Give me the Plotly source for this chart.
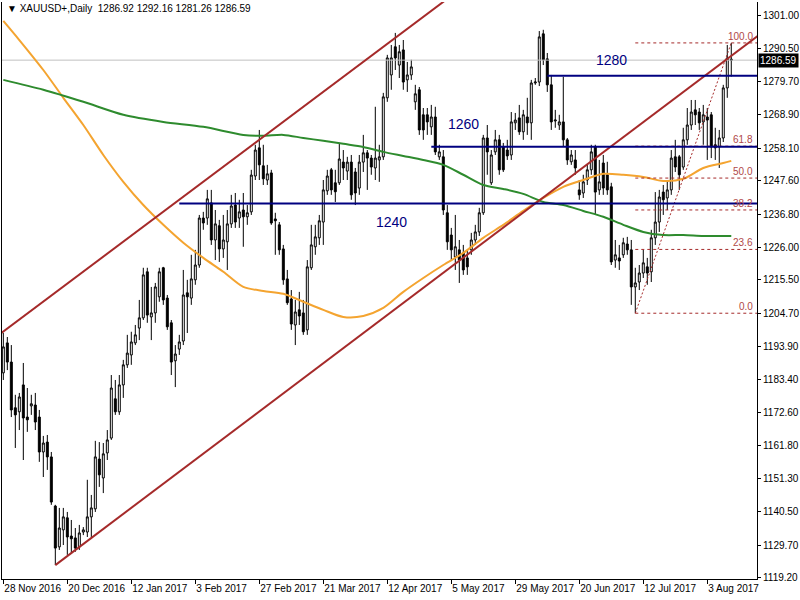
import plotly.graph_objects as go

# ---------------- data ----------------
opens = [1185.4,1195.1,1188.9,1174.1,1172.8,1181.5,1171.1,1174.7,1175.0,1171.1,
         1159.8,1163.0,1158.2,1142.3,1129.1,1134.6,1138.5,1132.6,1132.0,1129.1,
         1133.9,1133.9,1138.8,1141.4,1157.5,1151.4,1159.5,1164.3,1177.0,1172.8,
         1181.5,1188.0,1191.2,1195.1,1199.9,1203.2,1218.1,1203.5,1204.8,1210.0,
         1219.4,1209.6,1201.6,1189.3,1193.1,1195.7,1211.3,1209.6,1215.5,1220.3,
         1235.5,1235.5,1240.4,1228.4,1233.0,1225.5,1227.8,1233.6,1239.7,1235.5,
         1238.1,1235.9,1237.5,1249.1,1258.2,1252.4,1247.8,1250.1,1235.2,1233.3,
         1225.5,1215.8,1209.3,1200.9,1205.8,1204.8,1199.3,1219.4,1226.2,1229.1,
         1234.2,1244.3,1251.1,1246.9,1246.9,1253.6,1250.7,1253.6,1250.4,1245.2,
         1253.6,1256.6,1254.9,1251.7,1254.3,1255.3,1274.4,1281.8,1290.9,1285.0,
         1289.9,1280.2,1281.8,1273.1,1277.0,1268.9,1268.9,1265.0,1268.2,1255.3,
         1255.3,1237.2,1230.0,1222.9,1225.2,1224.2,1222.6,1225.2,1228.4,1231.0,
         1237.2,1261.4,1246.9,1256.9,1260.8,1258.5,1257.5,1255.9,1266.3,1267.9,
         1263.4,1268.2,1266.3,1279.2,1279.5,1295.1,1287.0,1278.6,1266.9,1265.6,
         1266.6,1260.8,1253.7,1254.3,1244.6,1243.6,1247.8,1251.1,1258.5,1244.6,
         1253.3,1249.5,1245.6,1221.9,1222.6,1223.6,1227.1,1225.2,1213.2,1214.8,
         1217.7,1219.7,1218.1,1229.1,1234.2,1243.9,1242.0,1244.6,1255.3,1255.3,
         1252.0,1260.8,1265.6,1270.5,1269.8,1266.6,1268.2,1268.9,1259.2,1258.5,
         1261.4,1277.6,1286.92]
highs = [1198.3,1197.0,1194.4,1178.3,1178.9,1188.6,1180.5,1178.3,1178.9,1173.4,
         1165.0,1165.3,1159.8,1142.7,1141.7,1141.7,1140.4,1137.8,1135.2,1136.2,
         1135.5,1150.8,1145.9,1163.4,1163.0,1162.7,1166.9,1184.7,1183.1,1184.7,
         1189.6,1197.7,1198.7,1200.9,1209.0,1219.4,1219.4,1213.2,1214.5,1219.4,
         1219.7,1210.6,1202.5,1194.4,1197.7,1218.7,1215.5,1223.6,1225.2,1236.5,
         1237.5,1244.6,1244.6,1238.1,1234.9,1236.5,1238.1,1243.0,1243.6,1241.4,
         1243.6,1239.7,1251.1,1259.2,1264.0,1259.2,1252.7,1251.1,1237.2,1234.2,
         1226.8,1218.7,1212.2,1209.0,1211.6,1209.0,1221.9,1233.3,1233.3,1236.5,
         1247.8,1251.1,1251.7,1251.1,1259.8,1257.5,1255.3,1255.9,1251.7,1255.9,
         1262.4,1257.5,1255.9,1271.5,1259.2,1276.0,1288.3,1291.5,1295.4,1291.5,
         1293.1,1286.0,1286.7,1278.6,1277.9,1271.1,1271.1,1272.1,1271.5,1259.2,
         1257.5,1239.7,1232.3,1236.5,1228.4,1226.8,1225.2,1230.7,1233.3,1238.8,
         1262.4,1265.6,1257.5,1264.0,1262.4,1259.8,1260.8,1269.8,1269.5,1272.1,
         1270.5,1274.4,1280.2,1280.8,1296.0,1296.4,1288.9,1281.8,1270.5,1268.9,
         1281.2,1261.4,1257.5,1257.5,1247.8,1249.5,1252.7,1259.2,1259.2,1254.3,
         1255.9,1253.7,1246.9,1228.4,1226.8,1229.1,1229.4,1228.4,1219.4,1220.3,
         1225.2,1222.6,1231.7,1243.9,1244.6,1246.2,1247.8,1257.5,1260.8,1255.9,
         1264.7,1271.1,1273.7,1273.7,1271.1,1272.1,1271.1,1269.8,1264.7,1264.0,
         1278.6,1291.5,1292.16]
lows = [1183.1,1186.3,1171.1,1161.1,1166.9,1157.2,1166.3,1171.8,1166.9,1156.6,
        1151.7,1154.0,1142.7,1123.2,1128.1,1129.7,1126.5,1127.1,1127.5,1128.1,
        1132.9,1132.3,1132.3,1140.4,1148.5,1146.5,1157.2,1163.7,1171.8,1171.8,
        1177.3,1187.0,1188.0,1194.4,1196.0,1202.5,1201.6,1196.0,1201.6,1208.4,
        1207.4,1199.3,1184.7,1180.8,1191.2,1194.4,1198.3,1207.4,1213.9,1219.4,
        1231.7,1233.3,1226.8,1221.9,1221.3,1222.6,1218.7,1232.3,1232.3,1232.3,
        1226.2,1233.3,1236.5,1247.8,1247.8,1246.2,1246.2,1233.3,1223.6,1223.6,
        1213.9,1207.4,1199.3,1194.4,1200.9,1197.7,1197.7,1218.7,1223.6,1226.8,
        1226.8,1243.0,1243.0,1240.7,1246.2,1247.8,1247.8,1241.4,1239.7,1243.0,
        1250.4,1244.6,1249.5,1247.8,1247.2,1254.3,1273.1,1277.0,1283.4,1280.8,
        1277.0,1276.3,1280.2,1270.5,1262.4,1260.8,1262.4,1262.4,1255.9,1254.3,
        1236.5,1225.2,1221.9,1218.7,1214.5,1217.1,1217.1,1223.6,1226.8,1229.7,
        1236.5,1249.5,1246.2,1255.9,1249.5,1250.4,1254.3,1254.3,1264.0,1262.4,
        1260.8,1262.4,1260.8,1278.6,1278.2,1285.0,1276.3,1264.0,1264.7,1264.0,
        1258.5,1252.7,1252.7,1249.5,1241.4,1242.0,1246.2,1249.5,1236.5,1243.0,
        1243.0,1243.0,1220.3,1219.4,1218.7,1222.6,1223.6,1207.4,1204.7,1212.2,
        1216.1,1213.9,1214.8,1226.8,1231.0,1236.5,1238.1,1243.0,1250.4,1244.6,
        1251.1,1259.2,1264.0,1265.6,1264.0,1259.2,1254.3,1254.9,1254.3,1251.7,
        1260.1,1274.4,1281.26]
closes = [1193.8,1188.9,1173.4,1171.8,1177.6,1170.8,1170.2,1175.4,1169.5,1159.8,
          1162.7,1158.2,1143.6,1128.7,1135.2,1138.8,1132.3,1131.7,1128.7,1133.6,
          1134.6,1138.8,1141.7,1158.2,1152.4,1159.2,1163.7,1180.5,1172.8,1181.5,
          1188.0,1191.8,1195.4,1197.7,1203.2,1217.1,1204.1,1204.8,1213.2,1218.1,
          1209.0,1200.3,1188.9,1191.5,1195.4,1210.6,1210.0,1215.8,1220.3,1235.5,
          1233.9,1241.7,1228.4,1233.6,1225.5,1228.4,1233.6,1239.4,1234.2,1237.5,
          1235.9,1237.2,1249.4,1257.5,1252.7,1248.2,1249.8,1233.9,1234.6,1225.2,
          1215.5,1208.1,1201.2,1205.1,1203.8,1198.7,1219.7,1226.8,1229.4,1234.6,
          1244.6,1249.1,1244.6,1244.0,1254.6,1251.7,1253.6,1243.0,1243.6,1253.6,
          1256.6,1254.9,1252.0,1254.9,1255.3,1274.7,1287.3,1287.3,1287.3,1289.3,
          1279.5,1281.8,1284.4,1275.7,1264.0,1264.0,1266.6,1268.2,1256.9,1256.9,
          1238.1,1227.8,1225.2,1226.2,1221.9,1218.7,1219.7,1228.4,1231.0,1237.2,
          1261.4,1256.9,1255.9,1260.8,1251.1,1251.1,1255.6,1266.6,1267.2,1263.4,
          1268.9,1266.3,1279.2,1279.5,1294.1,1286.7,1278.6,1266.6,1267.2,1266.6,
          1260.8,1254.3,1255.9,1251.7,1243.0,1247.2,1251.1,1256.9,1243.9,1247.2,
          1245.2,1244.6,1221.3,1223.6,1221.6,1227.5,1225.2,1213.2,1214.5,1217.7,
          1221.0,1217.7,1229.1,1234.2,1242.3,1241.4,1244.6,1254.9,1252.0,1249.5,
          1260.8,1265.6,1269.8,1268.9,1266.3,1268.9,1267.2,1258.5,1258.2,1261.4,
          1277.6,1287.3,1286.59]

# date tick labels (one every 16 bars)
tick_bars = [0, 16, 32, 48, 64, 80, 96, 112, 128, 144, 160, 176]
tick_dates = ["28 Nov 2016", "20 Dec 2016", "12 Jan 2017", "3 Feb 2017", "27 Feb 2017",
              "21 Mar 2017", "12 Apr 2017", "5 May 2017", "29 May 2017", "20 Jun 2017",
              "12 Jul 2017", "3 Aug 2017"]
price_ticks = [1301.00, 1290.50, 1279.70, 1268.90, 1258.10, 1247.60, 1236.80, 1226.00,
               1215.50, 1204.70, 1193.90, 1183.40, 1172.60, 1161.80, 1151.30, 1140.50,
               1129.70, 1119.20]

# moving averages (read at sampled bars)
orange_bars = [0, 4, 10, 15, 20, 25, 30, 35, 40, 45, 50, 55, 60, 65, 70, 75, 80, 85, 90,
               95, 100, 105, 110, 115, 120, 125, 130, 135, 140, 145, 150, 155, 160, 165,
               170, 175, 180, 182]
orange_vals = [1299.3, 1293.1, 1283.4, 1274.4, 1265.6, 1255.9, 1247.2, 1239.7, 1233.3,
               1227.5, 1222.6, 1218.1, 1213.2, 1211.9, 1211.0, 1208.4, 1205.8, 1203.5,
               1203.8, 1206.4, 1211.6, 1216.1, 1220.3, 1224.2, 1229.1, 1233.3, 1237.8,
               1242.0, 1245.6, 1247.8, 1249.8, 1249.5, 1248.8, 1247.5, 1248.2, 1251.7,
               1253.3, 1254.0]
green_bars = [0, 10, 20, 30, 40, 50, 60, 65, 70, 75, 80, 85, 90, 95, 100, 105, 110, 115,
              120, 125, 130, 135, 140, 145, 150, 155, 160, 165, 170, 175, 180, 182]
green_vals = [1280.2, 1277.0, 1273.1, 1268.9, 1266.6, 1265.0, 1262.4, 1262.1, 1262.4,
              1261.4, 1260.5, 1259.5, 1258.5, 1256.9, 1255.6, 1254.3, 1252.7, 1249.5,
              1246.2, 1244.9, 1243.3, 1240.7, 1239.7, 1237.8, 1235.9, 1233.3, 1231.0,
              1230.0, 1230.0, 1229.7, 1229.7, 1229.7]

# channel trend lines (two anchor points each: bar, price)
upper_channel_bars = [-1, 115]
upper_channel_prices = [1197.8, 1310.3]
lower_channel_bars = [13, 190]
lower_channel_prices = [1123.2, 1295.8]

# horizontal support / resistance lines
level_prices = [1281.5, 1258.6, 1240.2]
level_start_bars = [136, 107, 44]
level_labels = ["1280", "1260", "1240"]
level_label_bars = [152, 115, 97]
level_label_prices = [1286.7, 1266.0, 1234.3]

# Fibonacci retracement
fib_low = 1204.7
fib_high = 1292.16
fib_low_bar = 158
fib_high_bar = 182
fib_levels = [0.0, 23.6, 38.2, 50.0, 61.8, 100.0]

last_price = 1286.59
title_text = "▼ XAUUSD+,Daily  1286.92 1292.16 1281.26 1286.59"

# ---------------- figure ----------------
bars = list(range(len(closes)))
x_left, x_right = -0.33, 188.43
y_low, y_high = 1118.7, 1305.4

FONT = "Liberation Sans, Arial, sans-serif"
BROWN = "#A52A2A"
NAVY = "#000080"

fig = go.Figure()

# current price line (behind everything)
fig.add_trace(go.Scatter(x=[x_left, x_right], y=[last_price, last_price], mode="lines",
                         line=dict(color="#C0C0C0", width=1), hoverinfo="skip"))

fig.add_trace(go.Candlestick(
    x=bars, open=opens, high=highs, low=lows, close=closes,
    increasing=dict(line=dict(color="black", width=1), fillcolor="white"),
    decreasing=dict(line=dict(color="black", width=1), fillcolor="black"),
    whiskerwidth=0, hoverinfo="skip"))

fig.add_trace(go.Scatter(x=orange_bars, y=orange_vals, mode="lines",
                         line=dict(color="#F4A430", width=2, shape="spline", smoothing=0.8),
                         hoverinfo="skip"))
fig.add_trace(go.Scatter(x=green_bars, y=green_vals, mode="lines",
                         line=dict(color="#2E8B2E", width=2, shape="spline", smoothing=0.8),
                         hoverinfo="skip"))

# Fibonacci levels
fib_range = fib_high - fib_low
for lv in fib_levels:
    yv = fib_low + fib_range * lv / 100.0
    fig.add_trace(go.Scatter(x=[fib_low_bar, x_right], y=[yv, yv], mode="lines",
                             line=dict(color=BROWN, width=1, dash="3px,3px"),
                             hoverinfo="skip"))
    fig.add_annotation(x=1, xref="paper", y=yv, yref="y", text=f"{lv:.1f}",
                       showarrow=False, xanchor="right", yanchor="bottom", xshift=-2,
                       yshift=-1, font=dict(family=FONT, size=10, color="#B04848"))
fig.add_trace(go.Scatter(x=[fib_low_bar, fib_high_bar], y=[fib_low, fib_high], mode="lines",
                         line=dict(color=BROWN, width=1, dash="2px,2px"), hoverinfo="skip"))

# channel
fig.add_trace(go.Scatter(x=upper_channel_bars, y=upper_channel_prices, mode="lines",
                         line=dict(color=BROWN, width=2), hoverinfo="skip"))
fig.add_trace(go.Scatter(x=lower_channel_bars, y=lower_channel_prices, mode="lines",
                         line=dict(color=BROWN, width=2), hoverinfo="skip"))

# horizontal levels
for p, sb, lab, lx, ly in zip(level_prices, level_start_bars, level_labels,
                              level_label_bars, level_label_prices):
    fig.add_trace(go.Scatter(x=[sb, x_right], y=[p, p], mode="lines",
                             line=dict(color=NAVY, width=2), hoverinfo="skip"))
    fig.add_annotation(x=lx, y=ly, text=lab, showarrow=False,
                       font=dict(family=FONT, size=14, color=NAVY))

# price-axis labels (drawn as text next to the axis ticks)
for v in price_ticks:
    fig.add_annotation(x=1, xref="paper", y=v, yref="y", text=f"{v:.2f}",
                       showarrow=False, xanchor="left", yanchor="middle", xshift=4,
                       font=dict(family=FONT, size=10, color="black"))

# title
fig.add_annotation(x=0, xref="paper", y=1, yref="paper", text=title_text,
                   showarrow=False, xanchor="left", yanchor="top", xshift=3, yshift=1,
                   font=dict(family=FONT, size=10, color="black"))

# current price box on the axis
fig.add_annotation(x=1, xref="paper", y=last_price, yref="y", text=f"{last_price:.2f}",
                   showarrow=False, xanchor="left", yanchor="middle", xshift=1,
                   bgcolor="black", borderpad=1,
                   font=dict(family=FONT, size=10, color="white"))

fig.update_layout(
    width=800, height=600,
    margin=dict(l=2, r=43, t=2, b=21, autoexpand=False),
    paper_bgcolor="white", plot_bgcolor="white",
    showlegend=False,
    font=dict(family=FONT, size=10, color="black"),
    xaxis=dict(range=[x_left, x_right], tickmode="array", tickvals=tick_bars,
               ticktext=tick_dates, ticks="outside", ticklen=4, tickcolor="black",
               tickangle=0, automargin=False,
               showline=True, linecolor="black", linewidth=1, showgrid=False,
               zeroline=False, rangeslider=dict(visible=False),
               ticklabelposition="outside right",
               tickfont=dict(family=FONT, size=10, color="black")),
    yaxis=dict(range=[y_low, y_high], side="right", tickmode="array",
               tickvals=price_ticks, showticklabels=False, automargin=False,
               ticks="outside", ticklen=3, tickcolor="black",
               showline=True, linecolor="black", linewidth=1, mirror=True,
               showgrid=False, zeroline=False),
)

fig.write_html("out.html",
               config={"displayModeBar": False, "staticPlot": True},
               post_script="document.body.style.margin='0px';"
                           "document.body.style.padding='0px';"
                           "document.body.style.overflow='hidden';")
